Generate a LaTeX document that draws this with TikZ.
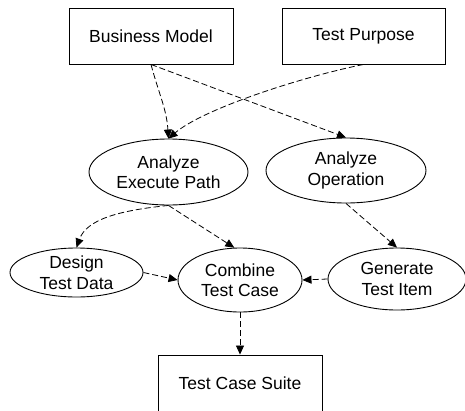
\documentclass[tikz,border=0pt]{standalone}
\usepackage{fontspec}
\setmainfont{Liberation Sans}
\usetikzlibrary{shapes.geometric,arrows.meta}

\begin{document}
\begin{tikzpicture}[x=1pt,y=-1pt,
  every node/.style={font=\fontsize{17.5}{20.5}\selectfont, align=center, inner sep=0pt},
  box/.style={draw, line width=0.9pt, minimum width=164pt, minimum height=56pt},
  oval/.style={draw, ellipse, line width=0.9pt},
  flow/.style={draw, line width=0.8pt, dash pattern=on 6pt off 3pt,
    -{Triangle[length=9pt,width=8pt]}}]

\useasboundingbox (0,0) rectangle (465,410);
\clip (0,0) rectangle (465,410);

% sources
\node[box] (bm) at (151,36) {Business Model};
\node[box, minimum width=163pt] (tp) at (363.5,36) {Test Purpose};

% activities
\node[oval, minimum width=159pt, minimum height=66pt] (aep) at (168.5,172) {Analyze\\Execute Path};
\node[oval, minimum width=160pt, minimum height=65pt] (ao) at (346,170.5) {Analyze\\Operation};
\node[oval, minimum width=133pt, minimum height=49pt] (dtd) at (76.5,272.5) {Design\\Test Data};
\node[oval, minimum width=124pt, minimum height=64pt] (ctc) at (240,280) {Combine\\Test Case};
\node[oval, minimum width=138pt, minimum height=62pt] (gti) at (397,279) {Generate\\Test Item};

% result
\node[box] (tcs) at (240,383) {Test Case Suite};

% data flow
\draw[flow] (bm.south) .. controls +(8,30) and +(-2,-30) .. (aep.north);
\draw[flow] (bm.south) -- (ao.north);
\draw[flow] (tp.south) .. controls +(-60,12) and +(35,-30) .. (aep.north);
\draw[flow] (aep.south) .. controls +(-50,5) and +(10,-28) .. (dtd.north);
\draw[flow] (aep.south) -- (ctc.100);
\draw[flow] (ao.south) -- (gti.north);
\draw[flow] (dtd.east) -- (ctc.west);
\draw[flow] (gti.west) -- (ctc.east);
\draw[flow] (ctc.south) -- (tcs.north);
\end{tikzpicture}
\end{document}
